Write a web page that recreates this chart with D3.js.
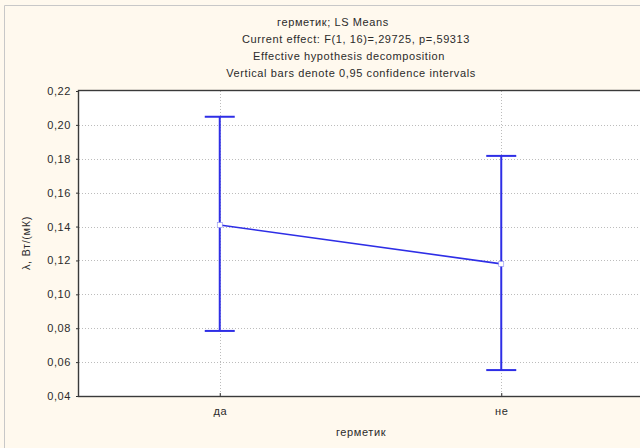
<!DOCTYPE html>
<html>
<head>
<meta charset="utf-8">
<script src="https://cdn.jsdelivr.net/npm/d3@7"></script>
<style>
  html, body { margin: 0; padding: 0; background: #fff9ee; }
  svg { display: block; }
  text { font-family: "Liberation Sans", Arial, sans-serif; fill: #2b2b2b; letter-spacing: 0.6px; }
</style>
</head>
<body>
<svg id="chart" width="640" height="448"></svg>
<script>
// LS means of λ by sealant group, with 95% confidence limits
const categories = ["да", "не"];
const means = [0.1409, 0.1180];
const lower = [0.0784, 0.0553];
const upper = [0.2048, 0.1817];
const yTicks = [0.04, 0.06, 0.08, 0.10, 0.12, 0.14, 0.16, 0.18, 0.20, 0.22];
const titleLines = [
  "герметик; LS Means",
  "Current effect: F(1, 16)=,29725, p=,59313",
  "Effective hypothesis decomposition",
  "Vertical bars denote 0,95 confidence intervals"
];
const xTitle = "герметик";
const yTitle = "λ, Вт/(мК)";

const svg = d3.select("#chart");
const W = 640, H = 448;
const plot = { left: 79, top: 91, right: 642, bottom: 396 };

// outer panel border
svg.append("rect").attr("x", 0).attr("y", 0).attr("width", W).attr("height", H).attr("fill", "#fff9ee");
svg.append("path").attr("d", `M4.5,${H} V5.5 H${W}`).attr("fill", "none").attr("stroke", "#c8c8c8").attr("stroke-width", 1);

const x = d3.scalePoint().domain(categories).range([plot.left, plot.right]).padding(0.5);
const y = d3.scaleLinear().domain([0.04, 0.22]).range([plot.bottom, plot.top]);
const fmt = v => d3.format(".2f")(v).replace(".", ",");

// plot background
svg.append("rect")
  .attr("x", plot.left).attr("y", plot.top)
  .attr("width", plot.right - plot.left).attr("height", plot.bottom - plot.top)
  .attr("fill", "#ffffff");

// dotted grid
const grid = svg.append("g").attr("stroke", "#bcbcbc").attr("stroke-dasharray", "1,2").attr("stroke-width", 1);
grid.selectAll("line.h").data(yTicks.slice(1, -1)).join("line")
  .attr("x1", plot.left).attr("x2", plot.right)
  .attr("y1", d => Math.round(y(d)) + 0.5).attr("y2", d => Math.round(y(d)) + 0.5);
grid.selectAll("line.v").data(categories).join("line")
  .attr("x1", d => Math.round(x(d)) + 0.5).attr("x2", d => Math.round(x(d)) + 0.5)
  .attr("y1", plot.top).attr("y2", plot.bottom);

// y axis
const yAxis = svg.append("g").attr("transform", `translate(${plot.left},0)`)
  .call(d3.axisLeft(y).tickValues(yTicks).tickFormat(fmt).tickSize(3).tickPadding(5));
yAxis.select(".domain").remove();
yAxis.selectAll(".tick line").attr("stroke", "#333");
yAxis.selectAll(".tick text").attr("font-size", 11).attr("fill", "#2b2b2b")
  .attr("font-family", "Liberation Sans, Arial, sans-serif");

// x axis
const xAxis = svg.append("g").attr("transform", `translate(0,${plot.bottom})`)
  .call(d3.axisBottom(x).tickSize(-3).tickPadding(11));
xAxis.select(".domain").remove();
xAxis.selectAll(".tick line").attr("stroke", "#333");
xAxis.selectAll(".tick text").attr("font-size", 11).attr("fill", "#2b2b2b")
  .attr("font-family", "Liberation Sans, Arial, sans-serif");

// frame
svg.append("rect")
  .attr("x", plot.left - 0.5).attr("y", plot.top - 0.5)
  .attr("width", plot.right - plot.left + 1).attr("height", plot.bottom - plot.top + 1)
  .attr("fill", "none").attr("stroke", "#3a3a3a").attr("stroke-width", 1.4);

// error bars
const blue = "#2e2ee6";
const bars = svg.append("g").attr("stroke", blue).attr("stroke-width", 2).attr("fill", "none");
categories.forEach((c, i) => {
  const cx = x(c);
  bars.append("line").attr("x1", cx).attr("x2", cx).attr("y1", y(upper[i])).attr("y2", y(lower[i]));
  bars.append("line").attr("x1", cx - 15).attr("x2", cx + 15).attr("y1", y(upper[i])).attr("y2", y(upper[i]));
  bars.append("line").attr("x1", cx - 15).attr("x2", cx + 15).attr("y1", y(lower[i])).attr("y2", y(lower[i]));
});

// mean line and markers
const pts = categories.map((c, i) => [x(c), y(means[i])]);
svg.append("path").attr("d", d3.line()(pts))
  .attr("fill", "none").attr("stroke", blue).attr("stroke-width", 1.6);
svg.selectAll("rect.marker").data(pts).join("rect")
  .attr("class", "marker")
  .attr("x", d => d[0] - 2.5).attr("y", d => d[1] - 2.5)
  .attr("width", 5).attr("height", 5)
  .attr("fill", "#ffffff").attr("stroke", "#8c8cf0").attr("stroke-width", 0.6);

// titles
const titleX = [333, 356, 349, 351];
svg.selectAll("text.title").data(titleLines).join("text")
  .attr("class", "title")
  .attr("x", (d, i) => titleX[i]).attr("y", (d, i) => 26 + i * 17)
  .attr("text-anchor", "middle").attr("font-size", 11)
  .text(d => d);

svg.append("text")
  .attr("x", 361).attr("y", 436)
  .attr("text-anchor", "middle").attr("font-size", 11)
  .text(xTitle);

svg.append("text")
  .attr("transform", `translate(30,243) rotate(-90)`)
  .attr("text-anchor", "middle").attr("font-size", 11)
  .text(yTitle);
</script>
</body>
</html>
